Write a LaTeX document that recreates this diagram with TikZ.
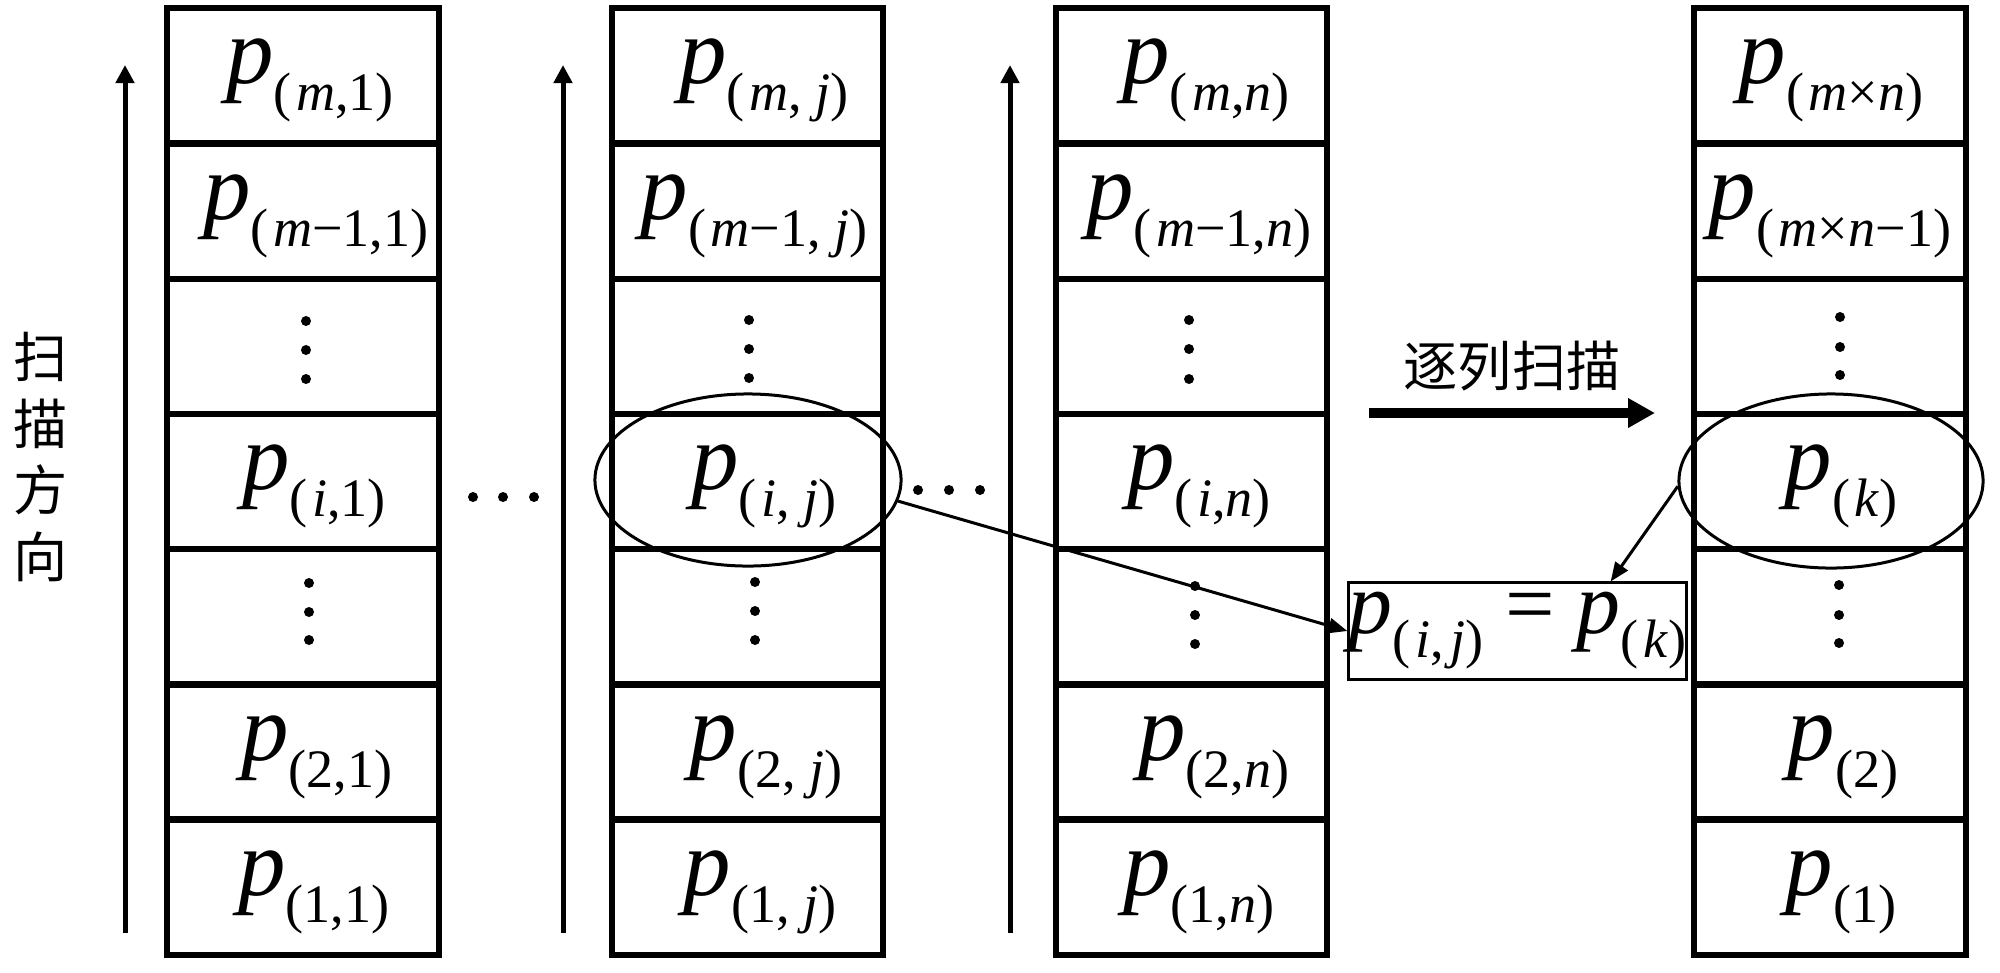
\documentclass[tikz,border=0pt]{standalone}
\usepackage{fontspec}
\setmainfont{Liberation Serif}
\newfontfamily\cjkfont{Noto Sans CJK SC}
\usetikzlibrary{arrows.meta,shapes.geometric}
\newcommand{\plab}[1]{\textit{p}\raisebox{-2.4mm}{\fontsize{15.4pt}{15.4pt}\selectfont(#1)}}
\newcommand{\plabc}[1]{\textit{p}\raisebox{-2.7mm}{\fontsize{15.4pt}{15.4pt}\selectfont(#1)}}
\newcommand{\im}[1]{\kern0.08em\textit{#1}}
\tikzset{
  cell/.style={draw, line width=0.6mm, minimum width=2.71cm, minimum height=1.355cm, inner sep=0pt, outer sep=0pt},
  plabel/.style={inner sep=0pt, font=\fontsize{27pt}{27pt}\selectfont},
  oval/.style={ellipse, draw, line width=0.3mm, inner sep=0pt, minimum width=3.06cm, minimum height=1.72cm},
  conn/.style={line width=0.3mm, -{Triangle[length=1.9mm, width=1.5mm]}},
  uparrow/.style={line width=0.5mm, -{Triangle[length=1.8mm, width=1.8mm]}},
  cjktext/.style={inner sep=0pt, font=\cjkfont\fontsize{15.4pt}{19pt}\selectfont, align=center},
}
\begin{document}
\begin{tikzpicture}[x=0.01cm, y=-0.01cm]
\fill[white] (0,0) rectangle (2000,972);
\useasboundingbox (0,0) rectangle (2000,972);

% column cells
\foreach \cx/\cn in {303/a, 747.5/b, 1191.5/c, 1830/d}{
  \foreach \ry/\rn in {75.5/1, 211.5/2, 346.5/3, 481.5/4, 617/5, 752/6, 887/7}{
    \node[cell] (\cn\rn) at (\cx,\ry) {};
  }
}

% labels column 1
\node[plabel] (la1) at (310,80) {\plabc{\im{m},1}};
\node[plabel] (la2) at (316,216) {\plabc{\im{m}−1,1}};
\node[plabel] (la4) at (314,486) {\plabc{\im{i},1}};
\node[plabel] (la6) at (317,757) {\plabc{2,1}};
\node[plabel] (la7) at (314,892) {\plabc{1,1}};
% labels column 2
\node[plabel] (lb1) at (764,80) {\plabc{\im{m}, \textit{j}}};
\node[plabel] (lb2) at (754,216) {\plabc{\im{m}−1, \textit{j}}};
\node[plabel] (lb4) at (764,486) {\plabc{\im{i}, \textit{j}}};
\node[plabel] (lb6) at (766,757) {\plabc{2, \textit{j}}};
\node[plabel] (lb7) at (760,892) {\plabc{1, \textit{j}}};
% labels column 3
\node[plabel] (lc1) at (1206,80) {\plabc{\im{m},\textit{n}}};
\node[plabel] (lc2) at (1199,216) {\plabc{\im{m}−1,\textit{n}}};
\node[plabel] (lc4) at (1199,486) {\plabc{\im{i},\textit{n}}};
\node[plabel] (lc6) at (1214,757) {\plabc{2,\textit{n}}};
\node[plabel] (lc7) at (1199,892) {\plabc{1,\textit{n}}};
% labels column 4
\node[plabel] (ld1) at (1831,80) {\plabc{\im{m}×\textit{n}}};
\node[plabel] (ld2) at (1830,216) {\plabc{\im{m}×\textit{n}−1}};
\node[plabel] (ld4) at (1841,486) {\plabc{\im{k}}};
\node[plabel] (ld6) at (1843,757) {\plabc{2}};
\node[plabel] (ld7) at (1841,892) {\plabc{1}};

% vertical dots
\foreach \x/\y in {306/321, 306/350, 306/379, 309/583, 309/612, 309/640,
                   749/320, 749/349, 749/378, 755/582, 755/611, 755/640,
                   1189/320, 1189/349, 1189/379, 1195/586, 1195/615, 1195/644,
                   1840/317, 1840/347, 1840/375, 1839/585, 1839/615, 1839/643,
                   473/497, 503/497, 534/497, 918/490, 949/490, 980/490}{
  \fill (\x,\y) circle (5);
}

% scan direction arrows
\foreach \x/\n in {125/1, 563/2, 1010/3}{
  \coordinate (s\n) at (\x,933);
  \coordinate (t\n) at (\x,65);
  \draw[uparrow] (s\n) -- (t\n);
}

% vertical Chinese text
\node[cjktext] (dir) at (41,457) {扫\\描\\方\\向};

% column-wise scan arrow
\node[cjktext] (scan) at (1512,366) {逐列扫描};
\coordinate (ha) at (1369,413);
\coordinate (hb) at (1655,413);
\draw[line width=1mm, -{Triangle[length=2.7mm, width=2.8mm]}] (ha) -- (hb);

% ellipses
\node[oval] (e2) at (748,480) {};
\node[oval, minimum width=3.04cm, minimum height=1.74cm] (e4) at (1831,481) {};

% equality box
\node[draw, line width=0.3mm, minimum width=3.29cm, minimum height=0.96cm, inner sep=0pt,
      font=\fontsize{25pt}{25pt}\selectfont] (eq) at (1517.5,631)
      {\plab{\im{i},\kern0.12em\textit{j}} = \plab{\im{k}}};

% connectors
\draw[conn] (e2.-8) -- (eq.west);
\draw[conn] (e4.182) -- (eq.28);
\end{tikzpicture}
\end{document}
